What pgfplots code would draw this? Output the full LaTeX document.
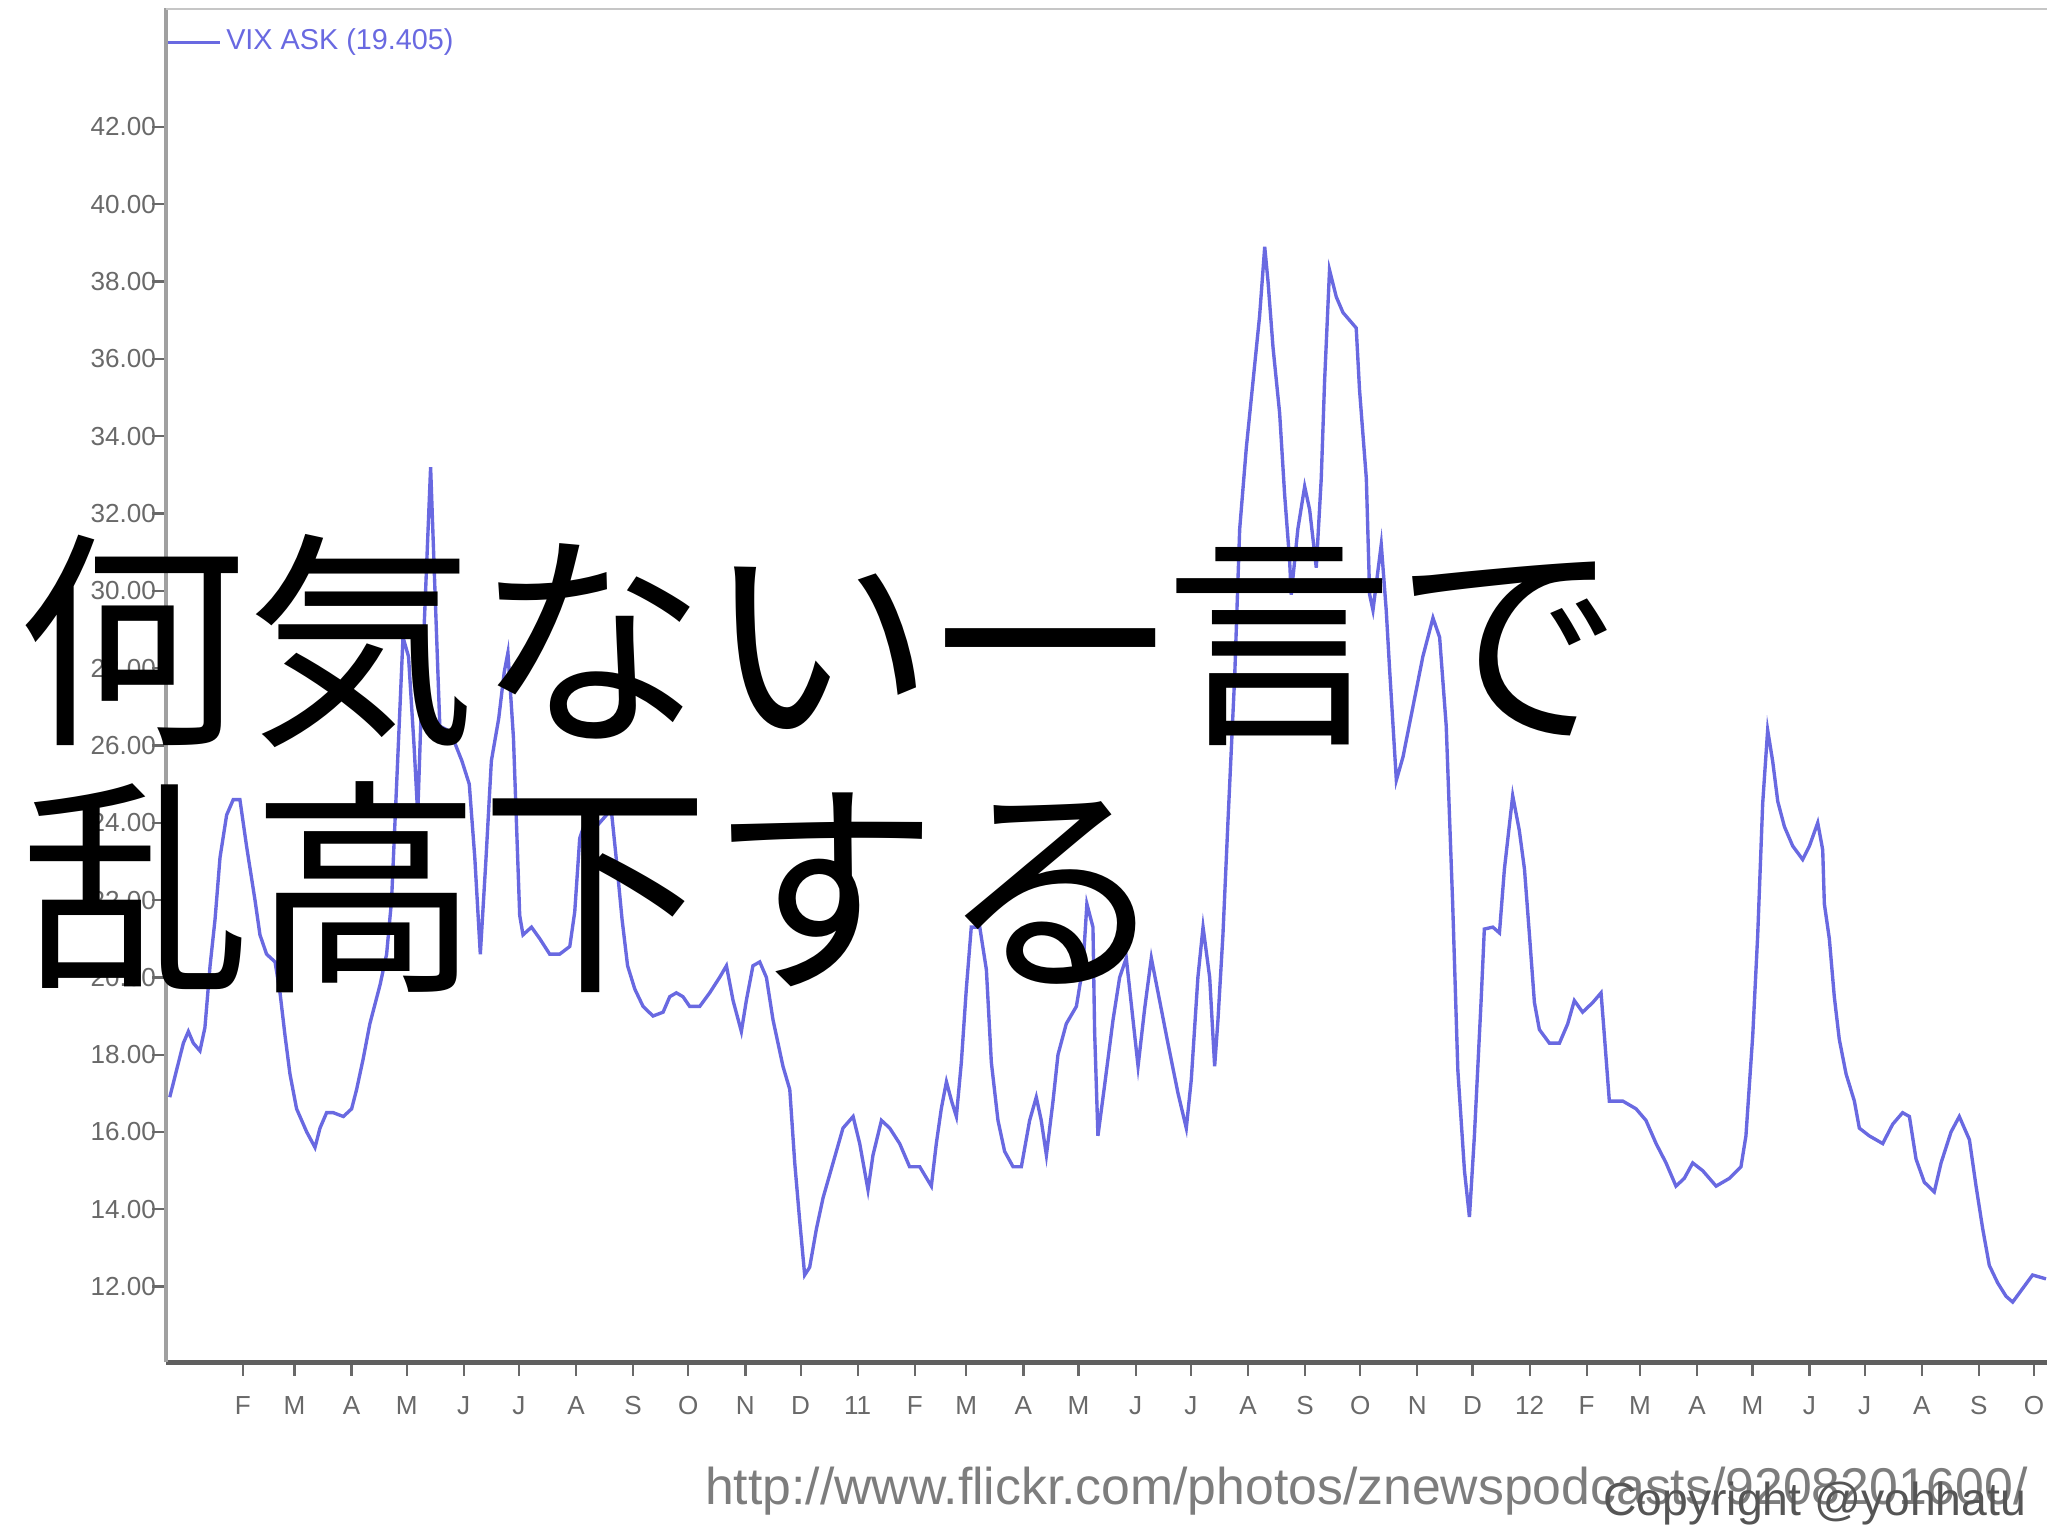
\documentclass[border=0pt]{standalone}
\usepackage{pgfplots}
\pgfplotsset{compat=1.18}
\usepackage{fontspec}
\setmainfont{Liberation Sans}
\newfontfamily\jpfont{Noto Sans CJK JP}
\definecolor{vixblue}{RGB}{105,105,225}
\definecolor{axgray}{RGB}{160,160,160}
\definecolor{botgray}{RGB}{95,95,95}
\definecolor{tickgray}{RGB}{105,105,105}
\definecolor{urlgray}{RGB}{125,125,125}
\definecolor{copygray}{RGB}{85,85,85}

\pgfplotstableread{
day val
-8.7 16.9
-5 17.6
-1.3 18.3
1.4 18.6
4.1 18.3
7.7 18.1
10.4 18.7
13.2 20.3
15.9 21.5
18.6 23.1
22.2 24.2
25.8 24.6
29.4 24.6
33 23.4
37.6 22.0
40.3 21.1
43.9 20.6
48.5 20.4
51.2 19.6
53.9 18.5
56.6 17.5
60.2 16.6
65.7 16.0
70.2 15.6
72.9 16.1
76.5 16.5
80.1 16.5
85.6 16.4
90.1 16.6
92.8 17.1
96.4 17.9
100 18.8
105.5 19.8
109.1 20.6
111.8 22.0
115 25.5
118 28.8
121 28.3
124 26.0
126 24.2
129 28.5
133 33.2
135 30.5
138 26.5
142 26.4
145 26.2
150 25.6
154 25.0
157 23.1
160 20.6
163 23.0
166 25.6
170 26.7
173 27.9
175 28.4
178 26.2
181.4 21.6
183.2 21.1
187.8 21.3
192.3 21.0
197.7 20.6
203.1 20.6
208.6 20.8
211.3 21.7
214 23.6
217.6 24.1
223 23.9
228.5 24.2
231 24.4
234 23.0
237 21.5
240 20.3
243.9 19.7
248.4 19.25
253.8 19.0
259.3 19.1
262.9 19.5
266.5 19.6
270.1 19.5
273.7 19.25
279.2 19.25
284.6 19.6
290 20.0
293.7 20.3
297.3 19.4
301.8 18.6
304.5 19.4
308.1 20.3
311.8 20.4
315.4 20.0
319 18.9
324.4 17.7
328.1 17.1
330.8 15.2
333.5 13.7
336.2 12.3
338.9 12.5
342.6 13.5
346.2 14.3
349.8 14.9
353.4 15.5
357 16.1
362.5 16.4
366.1 15.7
370.6 14.5
373.3 15.4
377.9 16.3
382.4 16.1
387.8 15.7
393.2 15.1
398.7 15.1
405 14.6
407.7 15.7
410.4 16.6
413.2 17.3
416 16.8
418.6 16.4
421.3 17.8
424 19.7
426.7 21.3
431.3 21.3
434.9 20.2
437.6 17.8
441.2 16.3
444.8 15.5
449.4 15.1
453.9 15.1
458.4 16.3
462 16.9
464.7 16.3
467.5 15.4
471.1 16.8
473.8 18.0
478.3 18.8
483.8 19.25
487.4 20.3
489.5 21.9
492.8 21.3
493.7 18.6
495.5 15.9
499.1 17.2
503.7 18.9
507.3 20.0
510.9 20.5
517.3 17.7
520.9 19.2
524.5 20.5
529 19.4
533.5 18.3
539 17.0
543.5 16.1
546.2 17.35
549.8 20.0
552.6 21.3
556.2 20.0
558.9 17.7
560.7 18.9
563.4 21.1
566.1 24.0
569.8 27.8
572.5 31.6
576.1 33.7
579.7 35.4
583.3 37.1
586.1 38.9
587.9 38.0
590.6 36.3
594.2 34.6
596.9 32.5
599.6 30.8
600.5 29.9
604.1 31.6
607.8 32.7
610.5 32.1
614.1 30.6
616.8 32.9
618.6 35.4
621.3 38.3
625 37.6
628.6 37.2
635.8 36.8
637.6 35.2
641.3 32.9
643.1 29.9
644.9 29.5
649.4 31.2
652.1 29.5
653.9 28.0
657.6 25.1
661.2 25.7
666.6 27.0
672 28.3
677.5 29.3
681.1 28.8
684.7 26.5
688.2 21.9
691 17.6
694.6 15.0
697.3 13.8
700 15.9
703.6 19.35
705.4 21.25
710 21.3
713.6 21.15
716.3 22.8
720.8 24.7
724.4 23.8
727.2 22.8
729.9 21.1
732.6 19.35
735.3 18.65
740.7 18.3
746.2 18.3
750.7 18.8
754.3 19.4
758.8 19.1
764.3 19.35
768.8 19.6
770.6 18.5
773.3 16.8
780.6 16.8
787.8 16.6
793.2 16.3
798.7 15.7
804.1 15.2
809.5 14.6
814 14.8
818.6 15.2
824 15.0
831.3 14.6
838.5 14.8
844.8 15.1
847.5 15.9
851.2 18.5
853.9 21.1
856.6 24.5
859.3 26.4
862 25.6
864.8 24.55
868.4 23.9
872.9 23.4
878.3 23.05
882 23.4
886.5 24.0
889.2 23.3
890.1 21.9
892.8 21.0
895.5 19.5
898.2 18.4
901.9 17.5
906.4 16.8
909.1 16.1
914.5 15.9
921.8 15.7
927.2 16.2
932.6 16.5
936.3 16.4
939.9 15.3
944.4 14.7
949.8 14.45
953.5 15.2
958.9 16.0
963.4 16.4
968.9 15.8
972.5 14.6
976.1 13.5
979.7 12.55
984.2 12.1
988.8 11.75
992.4 11.6
997.8 11.95
1003.2 12.3
1010.5 12.2
}\vixdata

\begin{document}
\begin{tikzpicture}[x=0.010204cm,y=0.010204cm]
\useasboundingbox (0,0) rectangle (1568,1175);
\begin{axis}[
  at={(1.2959cm,1.3469cm)}, anchor=south west,
  width=14.704cm, height=10.582cm, scale only axis,
  xmin=-10.84, xmax=1011.2, ymin=10.04, ymax=45.07,
  separate axis lines,
  axis x line*=bottom, axis y line*=left,
  x axis line style={-, draw=botgray, line width=1.2pt},
  y axis line style={-, draw=axgray, line width=1pt},
  tick align=outside, major tick length=3pt,
  tick style={draw=tickgray, line width=0.5pt},
  xtick={31,59,90,120,151,181,212,243,273,304,334,365,396,424,455,485,516,546,577,608,638,669,699,730,761,790,821,851,882,912,943,974,1004},
  xticklabels={F,M,A,M,J,J,A,S,O,N,D,11,F,M,A,M,J,J,A,S,O,N,D,12,F,M,A,M,J,J,A,S,O},
  ytick={12,14,...,42},
  yticklabel style={/pgf/number format/fixed, /pgf/number format/fixed zerofill, /pgf/number format/precision=2, inner xsep=0.5pt, xshift=1.5pt},
  /pgf/number format/assume math mode=true,
  tick label style={font=\fontsize{5.8}{6}\selectfont, text=tickgray},
  xticklabel style={yshift=-1pt},
  legend style={at={(rel axis cs:0.0,0.989)}, anchor=north west, draw=none, fill=none,
    font=\fontsize{6.4}{7}\selectfont, text=vixblue, inner sep=0pt,
    nodes={inner sep=1pt}},
  legend image code/.code={\draw[#1] (0pt,0pt) -- (11.5pt,0pt);},
]
\draw[gray!45, line width=0.6pt] (rel axis cs:0,1) -- (rel axis cs:1,1);
\addplot[vixblue, line width=0.75pt] table[x=day, y=val] {\vixdata};
\addlegendentry{VIX ASK (19.405)}
\end{axis}
\node[anchor=base west, inner sep=0, font=\jpfont\fontsize{51}{51}\selectfont] at (13,618) {何気ない一言で};
\node[anchor=base west, inner sep=0, font=\jpfont\fontsize{51}{51}\selectfont] at (16,429) {乱高下する};
\node[anchor=base east, inner sep=0, text=urlgray, font=\fontsize{11.5}{11.5}\selectfont] at (1553,23) {http://www.flickr.com/photos/znewspodcasts/9208201600/};
\node[anchor=base east, inner sep=0, text=copygray, font=\fontsize{10.3}{10.3}\selectfont] at (1552,15) {Copyright @yohhatu};
\end{tikzpicture}
\end{document}
